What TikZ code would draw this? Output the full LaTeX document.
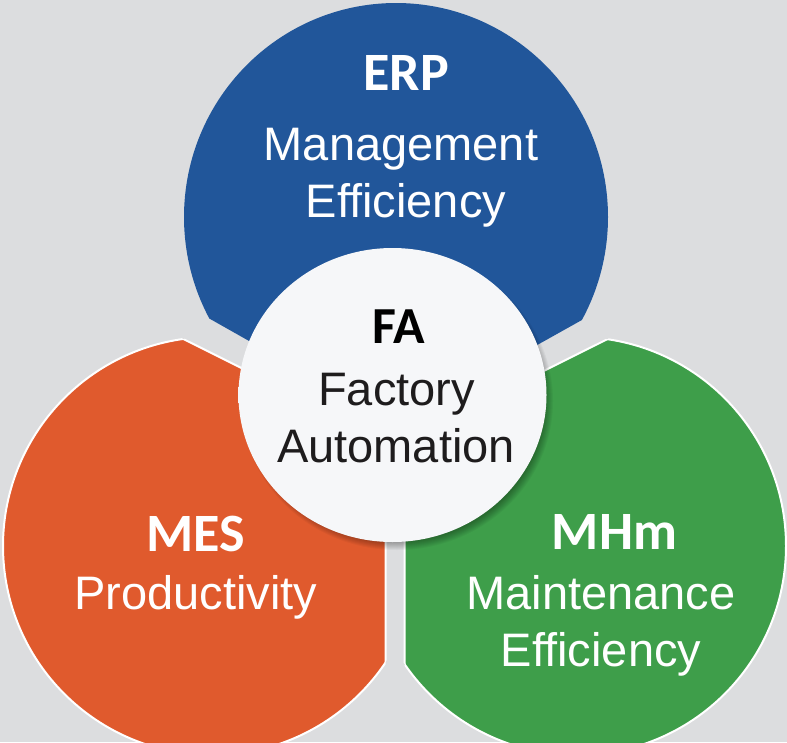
\documentclass[tikz,border=0pt]{standalone}
\usepackage{fontspec}
\setmainfont{Liberation Sans}
\newfontfamily\calib{Carlito}
\definecolor{bgc}{RGB}{220,221,223}
\definecolor{erpblue}{RGB}{33,86,154}
\definecolor{mesorange}{RGB}{224,90,45}
\definecolor{mhmgreen}{RGB}{62,158,74}
\definecolor{fatext}{RGB}{30,28,29}
\definecolor{fain}{RGB}{246,247,249}
\pgfdeclareradialshading{fabutton}{\pgfpoint{0bp}{0bp}}{color(0bp)=(fain); color(36bp)=(fain); color(50bp)=(white)}
\begin{document}
\begin{tikzpicture}[x=1pt,y=-1pt,
  title/.style={font=\calib\bfseries\fontsize{54}{60}\selectfont, anchor=base, inner sep=0pt},
  sub/.style={font=\fontsize{47}{56}\selectfont, anchor=base, inner sep=0pt},
  rim/.style={draw=white, line width=2pt}]
\fill[bgc] (0,0) rectangle (787,742);
\useasboundingbox (0,0) rectangle (787,742);
\clip (0,0) rectangle (787,742);
% ERP (blue)
\begin{scope}
  \clip (-50,-50) -- (850,-50) -- (850,170) -- (396,424) -- (-50,172) -- cycle;
  \fill[erpblue] (396,217) ellipse (212 and 214);
\end{scope}
% MES (orange)
\begin{scope}
  \clip (-50,222.5) -- (385.5,440) -- (385.5,800) -- (-50,800) -- cycle;
  \fill[mesorange] (212,546) circle (209);
  \draw[rim] (212,546) circle (209);
\end{scope}
\begin{scope}
  \clip (212,546) circle (209);
  \draw[rim] (-50,222.5) -- (385.5,440) -- (385.5,800);
\end{scope}
% MHm (green)
\begin{scope}
  \clip (850,218) -- (404.5,440.5) -- (404.5,800) -- (850,800) -- cycle;
  \fill[mhmgreen] (577,546) circle (209);
  \draw[rim] (577,546) circle (209);
\end{scope}
\begin{scope}
  \clip (577,546) circle (209);
  \draw[rim] (850,218) -- (404.5,440.5) -- (404.5,800);
\end{scope}
% FA shadow and button
\foreach \i in {1,...,9}
  \fill[black,opacity=0.04] (397,401) ellipse ({147+\i} and {140+\i});
\shade[shading=fabutton] (392.5,395) ellipse (154 and 147);
% texts
\node[title, text=white] (erp) at (406,90) {ERP};
\node[sub, text=white] (erpa) at (401,160) {Management};
\node[sub, text=white] (erpb) at (406,217) {Efficiency};
\node[title, text=black, font=\calib\bfseries\fontsize{52}{58}\selectfont] (fa) at (399,343) {FA};
\node[sub, text=fatext] (faa) at (396.5,405) {Factory};
\node[sub, text=fatext] (fab) at (396,462) {Automation};
\node[title, text=white] (mes) at (196,551) {MES};
\node[sub, text=white] (mesa) at (196,609) {Productivity};
\node[title, text=white] (mhm) at (614.5,549) {MHm};
\node[sub, text=white] (mhma) at (601,609) {Maintenance};
\node[sub, text=white] (mhmb) at (601,666) {Efficiency};
\end{tikzpicture}
\end{document}
